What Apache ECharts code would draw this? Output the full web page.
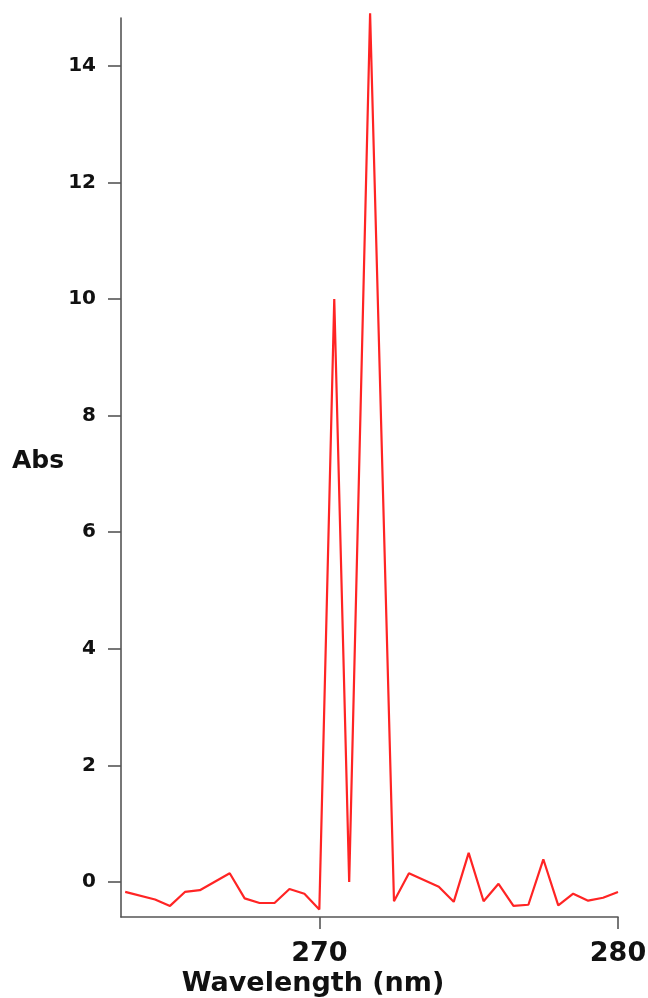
<!DOCTYPE html>
<html>
<head>
<meta charset="utf-8">
<style>
  html, body { margin: 0; padding: 0; background: #ffffff; }
  #chart { width: 648px; height: 998px; }
</style>
<script src="https://cdn.jsdelivr.net/npm/echarts@6/dist/echarts.min.js"></script>
</head>
<body>
<div id="chart"></div>
<script>
// Absorbance spectrum, wavelength in nm
const wavelength = [263.5, 264.5, 265, 265.5, 266, 267, 267.5, 268, 268.5, 269, 269.5, 270,
  270.5, 271, 271.7, 272.5, 273, 274, 274.5, 275, 275.5, 276, 276.5, 277, 277.5, 278,
  278.5, 279, 279.5, 280];
const absorbance = [-0.17, -0.30, -0.41, -0.17, -0.14, 0.15, -0.28, -0.36, -0.36, -0.12, -0.20, -0.47,
  10.0, 0.0, 14.9, -0.33, 0.15, -0.08, -0.34, 0.50, -0.33, -0.03, -0.41, -0.39, 0.39, -0.40,
  -0.20, -0.32, -0.27, -0.17];
const xTicks = [270, 280];
const yTicks = [0, 2, 4, 6, 8, 10, 12, 14];

const points = wavelength.map((w, i) => [w, absorbance[i]]);

const labelFont = 'DejaVu Sans';
const axisColor = '#555555';

const chart = echarts.init(document.getElementById('chart'), null, { renderer: 'canvas' });
chart.setOption({
  animation: false,
  backgroundColor: '#ffffff',
  grid: { left: 121, right: 30, top: 18, bottom: 81, containLabel: false, outerBoundsMode: 'none' },
  title: [
    {
      text: 'Abs', left: 12, top: 449, padding: 0,
      textStyle: { fontFamily: labelFont, fontWeight: 'bold', fontSize: 25, color: '#111111' }
    },
    {
      text: 'Wavelength (nm)', left: 313, top: 970, padding: 0, textAlign: 'center',
      textStyle: { fontFamily: labelFont, fontWeight: 'bold', fontSize: 27, color: '#111111' }
    }
  ],
  xAxis: {
    type: 'value', min: 263.36, max: 280,
    axisLine: { show: true, onZero: false, lineStyle: { color: axisColor, width: 1.6 } },
    axisTick: { show: true, length: 12, customValues: xTicks, lineStyle: { color: axisColor, width: 1.6 } },
    axisLabel: {
      customValues: xTicks, margin: 23,
      fontFamily: labelFont, fontWeight: 'bold', fontSize: 27, color: '#111111'
    },
    splitLine: { show: false }
  },
  yAxis: {
    type: 'value', min: -0.6, max: 14.82,
    axisLine: { show: true, onZero: false, lineStyle: { color: axisColor, width: 1.6 } },
    axisTick: { show: true, length: 13, customValues: yTicks, lineStyle: { color: axisColor, width: 1.6 } },
    axisLabel: {
      customValues: yTicks, margin: 25,
      fontFamily: labelFont, fontWeight: 'bold', fontSize: 20, color: '#111111'
    },
    splitLine: { show: false }
  },
  series: [{
    type: 'line',
    data: points,
    showSymbol: false,
    clip: false,
    lineStyle: { color: '#ff2424', width: 2.2 }
  }]
});
</script>
</body>
</html>
